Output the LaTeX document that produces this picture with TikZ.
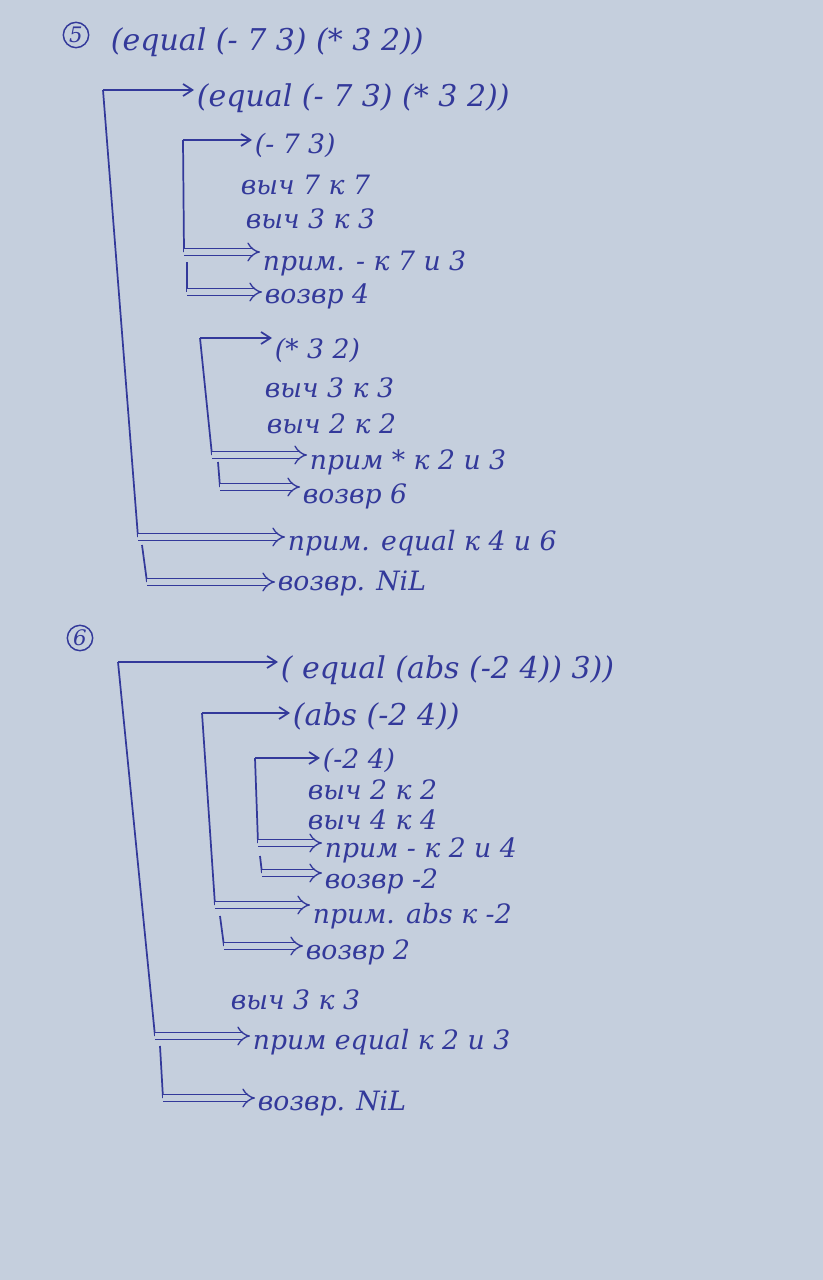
\documentclass[tikz,border=0pt]{standalone}
\usepackage{fontspec}
\setmainfont{DejaVu Serif}
\usetikzlibrary{arrows.meta}
\definecolor{paper}{HTML}{C5CFDD}
\definecolor{ink}{HTML}{33399A}
\begin{document}
\begin{tikzpicture}[x=0.75pt,y=-0.75pt,
 txt/.style={anchor=west, inner sep=2pt, text=ink, font=\itshape\fontsize{20}{22}\selectfont},
 big/.style={txt, font=\itshape\fontsize{22.5}{26}\selectfont},
 line/.style={draw=ink, line width=1.3pt},
 sarr/.style={line, -{Straight Barb[length=7pt,width=9pt]}},
 darr/.style={draw=ink, line width=1pt, double=paper, double distance=4pt, -{Implies}},
 num/.style={circle, draw=ink, line width=1.1pt, inner sep=0.5pt, minimum size=19pt, text=ink, font=\itshape\fontsize{16}{18}\selectfont}]
\useasboundingbox (0,0) rectangle (823,1280);
\fill[paper] (0,0) rectangle (823,1280);
% ---------- section 5
\node[num] (c5) at (76,35) {5};
\node[big] (q5) at (108,42) {(equal (- 7 3) (* 3 2))};
\node[big] (e5) at (194,98) {(equal (- 7 3) (* 3 2))};
\node[txt] (a1) at (252,145) {(- 7 3)};
\node[txt] (a2) at (238,185) {выч 7 к 7};
\node[txt] (a3) at (243,219) {выч 3 к 3};
\node[txt] (a4) at (260,263) {прим. - к 7 и 3};
\node[txt] (a5) at (262,296) {возвр 4};
\node[txt] (b1) at (272,350) {(* 3 2)};
\node[txt] (b2) at (262,388) {выч 3 к 3};
\node[txt] (b3) at (264,424) {выч 2 к 2};
\node[txt] (b4) at (307,462) {прим * к 2 и 3};
\node[txt] (b5) at (300,496) {возвр 6};
\node[txt] (e5p) at (285,543) {прим. equal к 4 и 6};
\node[txt] (e5r) at (275,583) {возвр. NiL};
\coordinate (A1) at (103,90); \coordinate (A2) at (138,537);
\coordinate (A3) at (142,545); \coordinate (A4) at (147,582);
\coordinate (B1) at (183,140); \coordinate (B2) at (184,252);
\coordinate (B3) at (187,262); \coordinate (B4) at (187,292);
\coordinate (C1) at (200,338); \coordinate (C2) at (212,455);
\coordinate (C3) at (218,462); \coordinate (C4) at (220,487);
\draw[sarr] (A1) -- (A1 -| e5.west);
\draw[line] (A1) -- (A2);
\draw[darr] (A2) -- (A2 -| e5p.west);
\draw[line] (A3) -- (A4);
\draw[darr] (A4) -- (A4 -| e5r.west);
\draw[sarr] (B1) -- (B1 -| a1.west);
\draw[line] (B1) -- (B2);
\draw[darr] (B2) -- (B2 -| a4.west);
\draw[line] (B3) -- (B4);
\draw[darr] (B4) -- (B4 -| a5.west);
\draw[sarr] (C1) -- (C1 -| b1.west);
\draw[line] (C1) -- (C2);
\draw[darr] (C2) -- (C2 -| b4.west);
\draw[line] (C3) -- (C4);
\draw[darr] (C4) -- (C4 -| b5.west);
% ---------- section 6
\node[num] (c6) at (80,638) {6};
\node[big] (e6) at (278,670) {( equal (abs (-2 4)) 3))};
\node[big] (f1) at (290,716) {(abs (-2 4))};
\node[txt] (g1) at (320,760) {(-2 4)};
\node[txt] (g2) at (305,790) {выч 2 к 2};
\node[txt] (g3) at (305,820) {выч 4 к 4};
\node[txt] (g4) at (322,850) {прим - к 2 и 4};
\node[txt] (g5) at (322,881) {возвр -2};
\node[txt] (f4) at (310,916) {прим. abs к -2};
\node[txt] (f5) at (303,952) {возвр 2};
\node[txt] (e6v) at (228,1000) {выч 3 к 3};
\node[txt] (e6p) at (250,1042) {прим equal к 2 и 3};
\node[txt] (e6r) at (255,1103) {возвр. NiL};
\coordinate (D1) at (118,662); \coordinate (D2) at (155,1036);
\coordinate (D3) at (160,1046); \coordinate (D4) at (163,1098);
\coordinate (E1) at (202,713); \coordinate (E2) at (215,905);
\coordinate (E3) at (220,916); \coordinate (E4) at (224,946);
\coordinate (F1) at (255,758); \coordinate (F2) at (258,843);
\coordinate (F3) at (260,856); \coordinate (F4) at (262,873);
\draw[sarr] (D1) -- (D1 -| e6.west);
\draw[line] (D1) -- (D2);
\draw[darr] (D2) -- (D2 -| e6p.west);
\draw[line] (D3) -- (D4);
\draw[darr] (D4) -- (D4 -| e6r.west);
\draw[sarr] (E1) -- (E1 -| f1.west);
\draw[line] (E1) -- (E2);
\draw[darr] (E2) -- (E2 -| f4.west);
\draw[line] (E3) -- (E4);
\draw[darr] (E4) -- (E4 -| f5.west);
\draw[sarr] (F1) -- (F1 -| g1.west);
\draw[line] (F1) -- (F2);
\draw[darr] (F2) -- (F2 -| g4.west);
\draw[line] (F3) -- (F4);
\draw[darr] (F4) -- (F4 -| g5.west);
\end{tikzpicture}
\end{document}
